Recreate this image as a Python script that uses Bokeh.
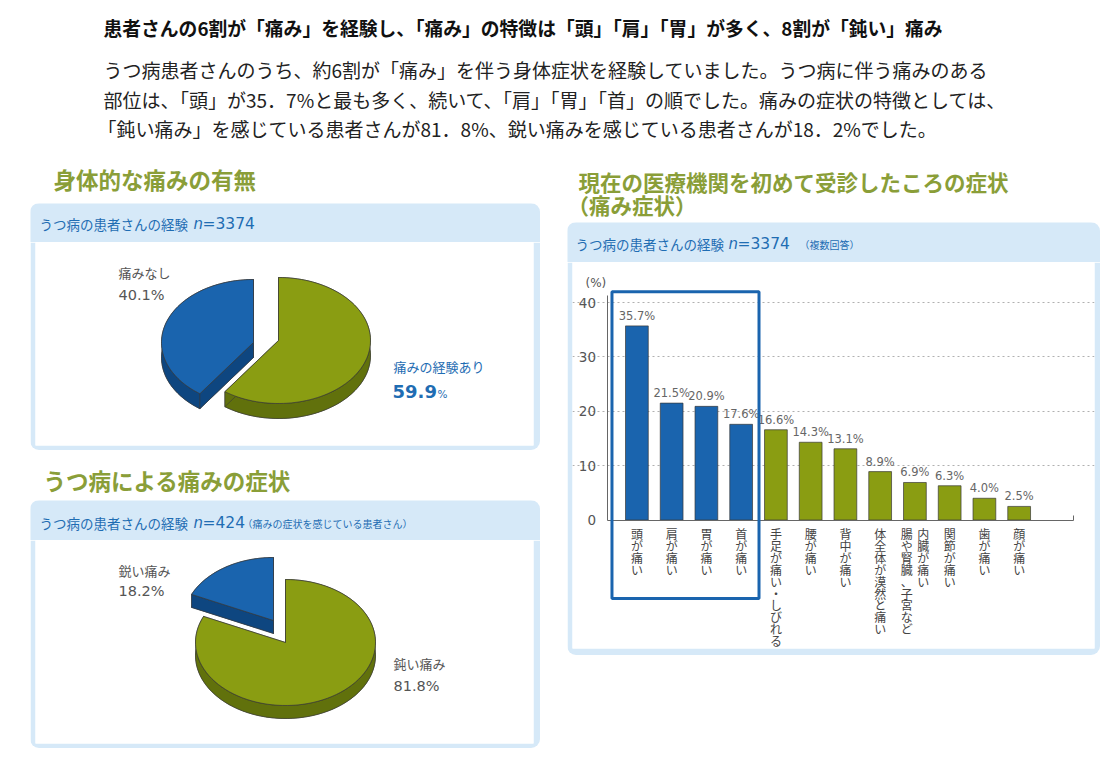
import numpy as np
from bokeh.plotting import figure
from bokeh.models import Range1d, BoxAnnotation, FixedTicker, Spacer
from bokeh.layouts import column, row
from bokeh.core.properties import value
from bokeh.embed import file_html
from bokeh.resources import INLINE

FONT = "Noto Sans CJK JP"
NUMFONT = "DejaVu Sans"

# ---------------- data / texts ----------------
HEADLINE = "患者さんの6割が「痛み」を経験し、「痛み」の特徴は「頭」「肩」「胃」が多く、8割が「鈍い」痛み"
BODY = [
    "うつ病患者さんのうち、約6割が「痛み」を伴う身体症状を経験していました。うつ病に伴う痛みのある",
    "部位は、「頭」が35．7%と最も多く、続いて、「肩」「胃」「首」の順でした。痛みの症状の特徴としては、",
    "「鈍い痛み」を感じている患者さんが81．8%、鋭い痛みを感じている患者さんが18．2%でした。",
]
SEC1 = "身体的な痛みの有無"
SEC2 = "うつ病による痛みの症状"
SEC3 = ["現在の医療機関を初めて受診したころの症状", "（痛み症状）"]
PANEL_HEAD = "うつ病の患者さんの経験"

pie1_labels = ["痛みの経験あり", "痛みなし"]
pie1_values = [59.9, 40.1]
pie1_n = "=3374"

pie2_labels = ["鈍い痛み", "鋭い痛み"]
pie2_values = [81.8, 18.2]
pie2_n = "=424"
pie2_note = "（痛みの症状を感じている患者さん）"

bar_categories = ["頭が痛い", "肩が痛い", "胃が痛い", "首が痛い", "手足が痛い・しびれる",
                  "腰が痛い", "背中が痛い", "体全体が漠然と痛い", "内臓が痛い 腸や腎臓、子宮など",
                  "関節が痛い", "歯が痛い", "顔が痛い"]
bar_values = [35.7, 21.5, 20.9, 17.6, 16.6, 14.3, 13.1, 8.9, 6.9, 6.3, 4.0, 2.5]
bar_n = "=3374"
bar_note = "（複数回答）"
highlight_count = 4
y_ticks = [0, 10, 20, 30, 40]

# ---------------- styles ----------------
BLUE = "#1a64ae"
BLUE_D = "#0e4680"
GREEN = "#8a9d12"
GREEN_D = "#61710c"
PANEL = "#d6e9f8"
SEC_GREEN = "#8a9e38"
HEAD_BLUE = "#1f6db3"
GRAY = "#555555"
EDGE = "#3a3a3a"


def canvas(w, h, bg="white", radius=None):
    kw = {}
    if radius:
        kw["styles"] = {"border-radius": radius, "overflow": "hidden"}
    p = figure(width=w, height=h, x_range=Range1d(0, w), y_range=Range1d(h, 0),
               output_backend="svg", toolbar_location=None, min_border=0, title=None,
               x_axis_location=None, y_axis_location=None, outline_line_color=None,
               background_fill_color=bg, border_fill_color=bg, **kw)
    p.grid.visible = False
    return p


def txt(p, x, y, s, size, color, bold=False, italic=False, align="left", baseline="middle", font=FONT):
    style = "bold" if bold else ("italic" if italic else "normal")
    p.text(x=[x], y=[y], text=[s], text_font=value(font), text_font_size=size,
           text_color=color, text_font_style=style, text_align=align, text_baseline=baseline)


def panel_head(w, h, y, n_x, n_text, note=None, note_x=None):
    p = canvas(w, h, bg=PANEL, radius="9px 9px 0 0")
    txt(p, 9 if w < 520 else 8, y, PANEL_HEAD, "13.5px", HEAD_BLUE)
    txt(p, n_x, y, "n", "15px", HEAD_BLUE, italic=True, font=NUMFONT)
    txt(p, n_x + 9, y, n_text, "15.5px", HEAD_BLUE, font=NUMFONT)
    if note:
        txt(p, note_x, y + 1, note, "10px", HEAD_BLUE)
    return p


# ---------------- header ----------------
header = canvas(1102, 142)
txt(header, 95, 19, HEADLINE, "18.8px", "#111111", bold=True)
for i, (xx, line) in enumerate(zip([95, 95, 89], BODY)):
    txt(header, xx, 61 + 29.5 * i, line, "19px", "#222222")

# ---------------- section titles ----------------
t1 = canvas(540, 53)
txt(t1, 45, 28, SEC1, "22.5px", SEC_GREEN, bold=True)
t2 = canvas(540, 50)
txt(t2, 35, 29, SEC2, "22.5px", SEC_GREEN, bold=True)
t3 = canvas(552, 72)
txt(t3, 30, 31, SEC3[0], "21.5px", SEC_GREEN, bold=True)
txt(t3, 19, 54, SEC3[1], "21.5px", SEC_GREEN, bold=True)


# ---------------- 3D pie helper ----------------
def pie_panel(values, center, rx, ry, depth, explode):
    p = figure(width=510, height=208, x_range=Range1d(0, 498), y_range=Range1d(203, 0),
               output_backend="svg", toolbar_location=None, title=None,
               x_axis_location=None, y_axis_location=None, outline_line_color=None,
               min_border_left=5, min_border_right=7, min_border_top=0, min_border_bottom=5,
               border_fill_color=PANEL, background_fill_color="white",
               styles={"border-radius": "0 0 9px 9px", "overflow": "hidden"})
    p.grid.visible = False
    fr = np.cumsum([0] + list(values)) / 100.0
    tops_x, tops_y, dark_x, dark_y, top_c, dark_c = [], [], [], [], [], []
    cols = [(GREEN, GREEN_D), (BLUE, BLUE_D)]
    for i in [1, 0]:
        a_hi = 90 - fr[i] * 360
        a_lo = 90 - fr[i + 1] * 360
        cx, cy = center[0] + explode[i][0], center[1] + explode[i][1]
        t = np.radians(np.linspace(a_lo, a_hi, 90))
        ax = cx + rx * np.cos(t)
        ay = cy - ry * np.sin(t)
        dark_x.append(list(np.r_[cx, ax])); dark_y.append(list(np.r_[cy, ay] + depth)); dark_c.append(cols[i][1])
        dark_x.append(list(np.r_[ax, ax[::-1]])); dark_y.append(list(np.r_[ay, ay[::-1] + depth])); dark_c.append(cols[i][1])
        for ex, ey in [(ax[0], ay[0]), (ax[-1], ay[-1])]:
            dark_x.append([cx, ex, ex, cx]); dark_y.append([cy, ey, ey + depth, cy + depth]); dark_c.append(cols[i][1])
        tops_x.append(list(np.r_[cx, ax])); tops_y.append(list(np.r_[cy, ay])); top_c.append(cols[i][0])
    p.patches(dark_x, dark_y, fill_color=dark_c, line_color=EDGE, line_width=0.6)
    p.patches(tops_x, tops_y, fill_color=top_c, line_color=EDGE, line_width=0.7)
    return p


h1 = panel_head(510, 39, 20, 163, pie1_n)
pie1 = pie_panel(pie1_values, (243, 98), 92, 63, 15, [(0, 0), (-25, 2)])
txt(pie1, 83, 30, pie1_labels[1], "13px", GRAY)
txt(pie1, 83, 52, f"{pie1_values[1]}%", "14.5px", GRAY, font=NUMFONT)
txt(pie1, 358, 124, pie1_labels[0], "13px", HEAD_BLUE)
txt(pie1, 357, 149, f"{pie1_values[0]}", "18px", HEAD_BLUE, bold=True, font=NUMFONT)
txt(pie1, 402, 151, "%", "10.5px", HEAD_BLUE, font=NUMFONT)

h2 = panel_head(510, 40, 22, 163, pie2_n, pie2_note, 212)
pie2 = pie_panel(pie2_values, (250, 102), 90, 63, 13, [(0, 0), (-12, -22)])
txt(pie2, 83, 30, pie2_labels[1], "13px", GRAY)
txt(pie2, 83, 50, f"{pie2_values[1]}%", "14.5px", GRAY, font=NUMFONT)
txt(pie2, 358, 123, pie2_labels[0], "13px", GRAY)
txt(pie2, 358, 145, f"{pie2_values[0]}%", "14.5px", GRAY, font=NUMFONT)

# ---------------- bar chart ----------------
idx = list(range(len(bar_values)))
h3 = panel_head(533, 40, 21, 161, bar_n, bar_note, 232)
bar = figure(width=533, height=393, x_range=Range1d(-1.853, 13.168), y_range=Range1d(-23.63, 47.36),
             output_backend="svg", toolbar_location=None, title=None, outline_line_color=None,
             min_border_left=5, min_border_right=6, min_border_top=0, min_border_bottom=7,
             border_fill_color=PANEL, background_fill_color="white",
             styles={"border-radius": "0 0 9px 9px", "overflow": "hidden"})
bar.xgrid.visible = False
bar.ygrid.ticker = FixedTicker(ticks=y_ticks[1:])
bar.ygrid.bounds = (-0.7, 12.56)
bar.ygrid.grid_line_color = "#b0b0b0"
bar.ygrid.grid_line_dash = "2 3"
bar.ygrid.grid_line_width = 1

ya = bar.yaxis[0]
ya.fixed_location = -0.86
ya.ticker = FixedTicker(ticks=y_ticks)
ya.bounds = (0, 41.3)
ya.major_tick_line_color = None
ya.minor_tick_line_color = None
ya.axis_line_color = "#666666"
ya.major_label_text_font = NUMFONT
ya.major_label_text_font_size = "13.5px"
ya.major_label_text_color = GRAY
ya.major_label_standoff = 5

xa = bar.xaxis[0]
xa.fixed_location = 0
xa.ticker = FixedTicker(ticks=[12.56])
xa.bounds = (-0.86, 12.56)
xa.major_tick_in = 5
xa.major_tick_out = 0
xa.major_tick_line_color = "#666666"
xa.minor_tick_line_color = None
xa.axis_line_color = "#666666"
xa.major_label_text_color = None

bar_colors = [BLUE if i < highlight_count else GREEN for i in idx]
bar.vbar(x=idx, top=bar_values, bottom=0, width=0.655, fill_color=bar_colors,
         line_color=EDGE, line_width=0.7)
bar.text(x=idx, y=bar_values, text=[f"{v:.1f}%" for v in bar_values], text_font=value(NUMFONT),
         text_font_size="11.5px", text_color="#666666", text_align="center",
         text_baseline="bottom", y_offset=-3)

# vertical (tategaki) category labels
vx, vt, vo = [], [], []
for i, cat in enumerate(bar_categories):
    cols_ = cat.split(" ")
    n = len(cols_)
    for k, c in enumerate(cols_):
        vx.append(i)
        vt.append("\n".join(list(c)))
        vo.append((n - 1) / 2 * 16.5 - k * 16.5)
bar.text(x=vx, y=[0] * len(vx), text=vt, x_offset=vo, y_offset=5, text_font=value(FONT),
         text_font_size="12px", text_line_height=0.7, text_color="#444444",
         text_align="center", text_baseline="top")

bar.add_layout(BoxAnnotation(left=-0.717, right=highlight_count - 1 + 0.514, top=41.97, bottom=-14.44,
                             fill_color=None, line_color=BLUE, line_alpha=1.0, line_width=3))

bar.text(x=[-1.479], y=[43.5], text=["(%)"], text_font=value(NUMFONT), text_font_size="12px",
         text_color=GRAY, text_baseline="middle")

# ---------------- layout ----------------
left_col = column(t1, row(Spacer(width=22, height=39), h1), row(Spacer(width=22, height=208), pie1),
                  t2, row(Spacer(width=22, height=40), h2), row(Spacer(width=22, height=208), pie2))
right_col = column(t3, row(Spacer(width=19, height=40), h3), row(Spacer(width=19, height=393), bar))
page = column(Spacer(width=1102, height=8), header, row(left_col, right_col))
layout = row(Spacer(width=8, height=756), page)

open("out.html", "w").write(file_html(layout, INLINE))
